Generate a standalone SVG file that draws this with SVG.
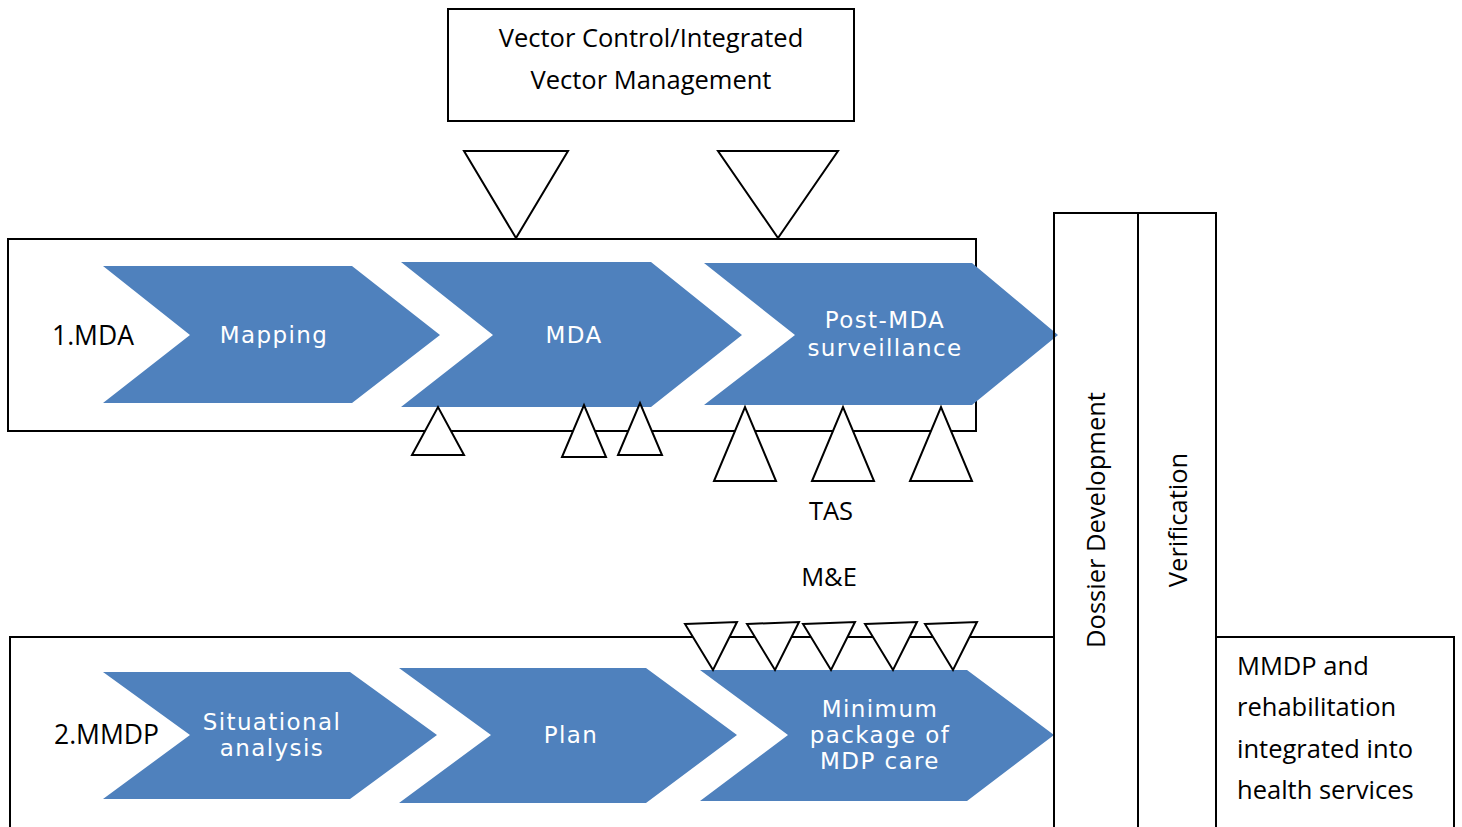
<svg xmlns="http://www.w3.org/2000/svg" width="1462" height="827" viewBox="0 0 1462 827">
<style>
.box{fill:none;stroke:#000;stroke-width:2}
.chev{fill:#4F81BD}
.tri{fill:#fff;stroke:#000;stroke-width:2;stroke-linejoin:miter}
.ct{font-family:"DejaVu Sans",sans-serif;font-size:23px;fill:#fff;text-anchor:middle;letter-spacing:1.4px}
.bt{font-family:"Open Sans","Noto Sans",sans-serif;font-size:25.5px;fill:#000}
.lt{font-size:26.5px}
.mt{text-anchor:middle}
</style>
<rect width="1462" height="827" fill="#fff"/>
<g id="vector-control">
<rect class="box" x="448" y="9" width="406" height="112"/>
<text class="bt mt" x="651" y="47">Vector Control/Integrated</text>
<text class="bt mt" x="651" y="89">Vector Management</text>
</g>
<g id="mda-lane">
<rect class="box" x="8" y="239" width="968" height="192"/>
<text class="bt lt" x="52" y="345">1.MDA</text>
</g>
<g id="mmdp-lane">
<path class="box" d="M10,827 V637 H1054"/>
<text class="bt lt" x="54" y="744">2.MMDP</text>
</g>
<g id="connectors">
<polygon class="tri" points="464,151 568,151 516,238"/>
<polygon class="tri" points="718,151 838,151 778,238"/>
</g>
<g id="mapping">
<polygon class="chev" points="103,266 352,266 440,335 352,403 103,403 190,335"/>
<text class="ct" x="274" y="343">Mapping</text>
</g>
<g id="mda">
<polygon class="chev" points="401,262 651,262 742,335 651,407 401,407 493,335"/>
<text class="ct" x="574" y="343">MDA</text>
</g>
<g id="post-mda">
<polygon class="chev" points="704,263 972,263 1058,335 972,405 704,405 795,335"/>
<text class="ct" x="885" y="328">Post-MDA</text>
<text class="ct" x="885" y="356">surveillance</text>
</g>
<g id="situational">
<polygon class="chev" points="103,672 350,672 437,735 350,799 103,799 190,735"/>
<text class="ct" x="272" y="730">Situational</text>
<text class="ct" x="272" y="756">analysis</text>
</g>
<g id="plan">
<polygon class="chev" points="399,668 646,668 737,735 646,803 399,803 491,735"/>
<text class="ct" x="571" y="743">Plan</text>
</g>
<g id="minimum-package">
<polygon class="chev" points="700,670 967,670 1054,735 967,801 700,801 788,735"/>
<text class="ct" x="880" y="717">Minimum</text>
<text class="ct" x="880" y="743">package of</text>
<text class="ct" x="880" y="769">MDP care</text>
</g>
<g id="tas-markers">
<polygon class="tri" points="412,455 464,455 438,407"/>
<polygon class="tri" points="562,457 606,457 584,405"/>
<polygon class="tri" points="618,455 662,455 640,403"/>
<polygon class="tri" points="714,481 776,481 745,407"/>
<polygon class="tri" points="812,481 874,481 843,407"/>
<polygon class="tri" points="910,481 972,481 941,407"/>
<text class="bt mt" x="831" y="520">TAS</text>
</g>
<g id="me-markers">
<text class="bt mt" x="829" y="586">M&amp;E</text>
<polygon class="tri" points="685,624 737,622 713,670"/>
<polygon class="tri" points="747,624 799,622 775,670"/>
<polygon class="tri" points="803,624 855,622 831,670"/>
<polygon class="tri" points="865,624 917,622 893,670"/>
<polygon class="tri" points="925,624 977,622 953,670"/>
</g>
<g id="dossier">
<rect class="box" x="1054" y="213" width="84" height="620"/>
<text class="bt mt" transform="translate(1105,520) rotate(-90)">Dossier Development</text>
</g>
<g id="verification">
<rect class="box" x="1138" y="213" width="78" height="620"/>
<text class="bt mt" transform="translate(1187,520) rotate(-90)">Verification</text>
</g>
<g id="integrated">
<rect class="box" x="1216" y="637" width="238" height="196"/>
<text class="bt" x="1237" y="675">MMDP and</text>
<text class="bt" x="1237" y="716">rehabilitation</text>
<text class="bt" x="1237" y="758">integrated into</text>
<text class="bt" x="1237" y="799">health services</text>
</g>
</svg>
